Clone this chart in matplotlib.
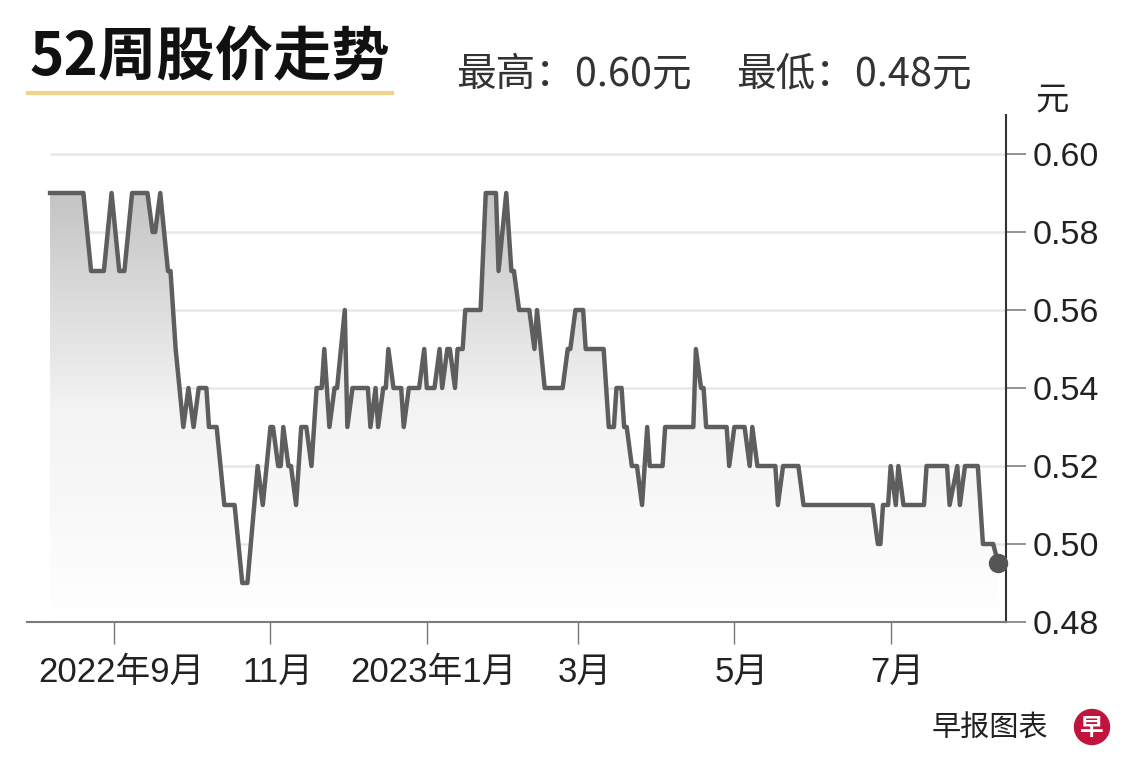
import matplotlib
matplotlib.use("Agg")
import matplotlib.dates as mdates
import matplotlib.pyplot as plt
import numpy as np
import pandas as pd
from matplotlib.colors import LinearSegmentedColormap
from matplotlib.lines import Line2D
from matplotlib.patches import Ellipse
from matplotlib.transforms import ScaledTranslation

plt.rcParams["font.family"] = ["Liberation Sans", "Noto Sans CJK SC", "DejaVu Sans"]

# price series: days after BASE_DATE and closing price
BASE_DATE = "2022-08-01"
DAY_OFFSETS = [
    6, 19, 22, 27, 30, 33, 35, 38, 44, 46, 47, 49, 52, 53, 55, 58, 60, 62, 64, 67,
    68, 71, 74, 78, 81, 83, 87, 89, 92, 93, 95, 96, 97, 99, 100, 102, 104, 106, 108, 110,
    112, 113, 115, 117, 118, 121, 122, 124, 130, 131, 133, 134, 136, 137, 138, 140, 143, 144, 146, 150,
    152, 153, 156, 158, 159, 161, 162, 164, 165, 167, 168, 174, 176, 180, 181, 184, 186, 187, 189, 193,
    195, 196, 199, 206, 208, 209, 211, 214, 215, 222, 224, 226, 227, 229, 230, 231, 233, 235, 237, 239,
    240, 245, 246, 257, 258, 260, 261, 262, 270, 271, 273, 277, 279, 280, 282, 289, 290, 292, 298, 300,
    327, 329, 330, 331, 333, 334, 336, 337, 339, 347, 348, 356, 357, 360, 361, 363, 368, 370, 374, 376,
]
PRICES = [
    0.59, 0.59, 0.57, 0.57, 0.59, 0.57, 0.57, 0.59, 0.59, 0.58, 0.58, 0.59, 0.57, 0.57, 0.55, 0.53, 0.54, 0.53, 0.54, 0.54,
    0.53, 0.53, 0.51, 0.51, 0.49, 0.49, 0.52, 0.51, 0.53, 0.53, 0.52, 0.52, 0.53, 0.52, 0.52, 0.51, 0.53, 0.53, 0.52, 0.54,
    0.54, 0.55, 0.53, 0.54, 0.54, 0.56, 0.53, 0.54, 0.54, 0.53, 0.54, 0.53, 0.54, 0.54, 0.55, 0.54, 0.54, 0.53, 0.54, 0.54,
    0.55, 0.54, 0.54, 0.55, 0.54, 0.55, 0.55, 0.54, 0.55, 0.55, 0.56, 0.56, 0.59, 0.59, 0.57, 0.59, 0.57, 0.57, 0.56, 0.56,
    0.55, 0.56, 0.54, 0.54, 0.55, 0.55, 0.56, 0.56, 0.55, 0.55, 0.53, 0.53, 0.54, 0.54, 0.53, 0.53, 0.52, 0.52, 0.51, 0.53,
    0.52, 0.52, 0.53, 0.53, 0.55, 0.54, 0.54, 0.53, 0.53, 0.52, 0.53, 0.53, 0.52, 0.53, 0.52, 0.52, 0.51, 0.52, 0.52, 0.51,
    0.51, 0.50, 0.50, 0.51, 0.51, 0.52, 0.51, 0.52, 0.51, 0.51, 0.52, 0.52, 0.51, 0.52, 0.51, 0.52, 0.52, 0.50, 0.50, 0.495,
]

Y_TICKS = [0.48, 0.50, 0.52, 0.54, 0.56, 0.58, 0.60]
X_TICK_DATES = ["2022-09-01", "2022-11-01", "2023-01-01", "2023-03-01", "2023-05-01", "2023-07-01"]
X_TICK_LABELS = ["2022年9月", "11月", "2023年1月", "3月", "5月", "7月"]
X_RANGE = ["2022-07-29", "2023-08-15"]
Y_RANGE = [0.48, 0.61]

TITLE = "52周股价走势"
HIGH_TEXT = "最高：0.60元"
LOW_TEXT = "最低：0.48元"
UNIT = "元"
SOURCE = "早报图表"

LINE_COLOR = "#5e5e5e"
GRID_COLOR = "#e8e8e8"
TEXT_COLOR = "#222222"

W, H = 1140, 778
fig = plt.figure(figsize=(W / 100, H / 100), dpi=100)
fig.patch.set_facecolor("white")
ax = fig.add_axes([27 / W, 156 / H, 979 / W, 507 / H])

dates = pd.Timestamp(BASE_DATE) + pd.to_timedelta(DAY_OFFSETS, unit="D")
x = mdates.date2num(dates.to_pydatetime())
y = np.array(PRICES)
x_lo, x_hi = mdates.date2num(pd.to_datetime(X_RANGE).to_pydatetime())

# grid lines start where the data starts
ax.hlines(Y_TICKS[1:], x[0], x_hi, color=GRID_COLOR, lw=1.8, zorder=0)

# gradient fill under the line
poly = ax.fill_between(x, y, Y_RANGE[0], color="none", lw=0)
cmap = LinearSegmentedColormap.from_list("fade", ["#ffffff", "#f3f3f3", "#c4c4c4"])
grad = np.linspace(0, 1, 256).reshape(-1, 1)
img = ax.imshow(grad, cmap=cmap, extent=[x[0], x[-1], Y_RANGE[0], y.max()],
                aspect="auto", origin="lower", zorder=1)
img.set_clip_path(poly.get_paths()[0], transform=ax.transData)

ax.plot(x, y, color=LINE_COLOR, lw=3.2, solid_joinstyle="round", zorder=3)
ax.plot(x[-1], y[-1], "o", ms=13, color="#555555", zorder=4, clip_on=False)

ax.set_xlim(x_lo, x_hi)
ax.set_ylim(*Y_RANGE)

for side in ["left", "top"]:
    ax.spines[side].set_visible(False)
ax.spines["right"].set_color("#333333")
ax.spines["right"].set_linewidth(1.5)
ax.spines["bottom"].set_color("#7a7a7a")
ax.spines["bottom"].set_linewidth(1.5)

ax.yaxis.tick_right()
ax.set_yticks(Y_TICKS)
ax.set_yticklabels([f"{v:.2f}" for v in Y_TICKS])
ax.tick_params(axis="y", direction="out", length=14.5, width=1.3, color="#8a8a8a",
               labelsize=24.5, labelcolor=TEXT_COLOR, pad=5)

tick_x = mdates.date2num(pd.to_datetime(X_TICK_DATES).to_pydatetime())
ax.set_xticks(tick_x)
ax.set_xticklabels(X_TICK_LABELS)
ax.tick_params(axis="x", direction="out", length=16, width=1, color="#777777",
               labelsize=25, labelcolor=TEXT_COLOR, pad=8)
shift = ScaledTranslation(7 / 100, 0, fig.dpi_scale_trans)
for lab in ax.get_xticklabels():
    lab.set_transform(lab.get_transform() + shift)

# header
fig.text(30 / W, 1 - 58 / H, TITLE, fontsize=42, fontweight="bold", color="#111111",
         family=["Noto Sans CJK SC"], va="center", ha="left")
fig.add_artist(Line2D([28 / W, 392 / W], [1 - 93 / H, 1 - 93 / H], color="#f0d28a", lw=3))
fig.text(456 / W, 1 - 74 / H, HIGH_TEXT, fontsize=28.5, color="#333333",
         family=["Noto Sans CJK SC"], va="center", ha="left")
fig.text(736 / W, 1 - 74 / H, LOW_TEXT, fontsize=28.5, color="#333333",
         family=["Noto Sans CJK SC"], va="center", ha="left")
fig.text(1052 / W, 1 - 100 / H, UNIT, fontsize=24, color=TEXT_COLOR,
         family=["Noto Sans CJK SC"], va="center", ha="center")

# footer
fig.text(1048 / W, 1 - 729 / H, SOURCE, fontsize=21, color=TEXT_COLOR,
         family=["Noto Sans CJK SC"], va="center", ha="right")
fig.add_artist(Ellipse((1092 / W, 1 - 727 / H), 35 / W, 35 / H, transform=fig.transFigure,
                       color="#c0143c", zorder=5))
fig.text(1092 / W, 1 - 728 / H, "早", fontsize=17, fontweight="bold", color="white",
         family=["Noto Sans CJK SC"], va="center", ha="center", zorder=6)

fig.savefig("out.png", dpi=100, facecolor="white")
